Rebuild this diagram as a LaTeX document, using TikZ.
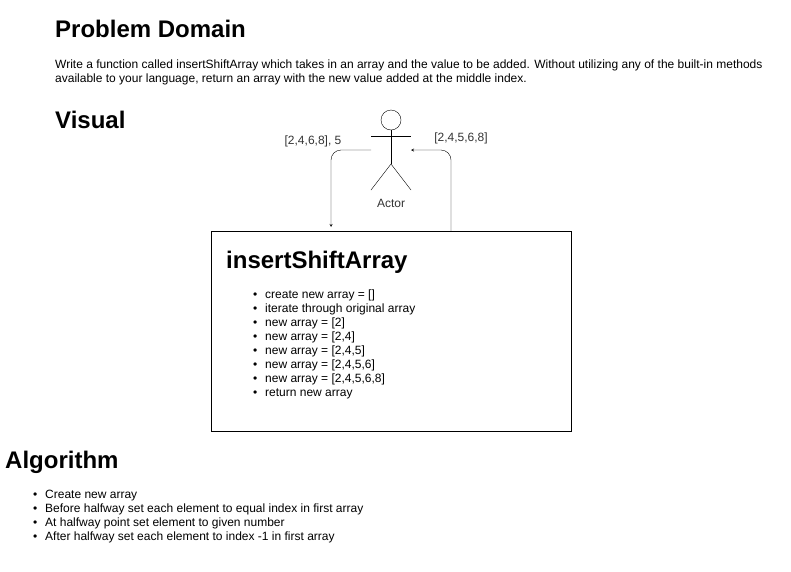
\documentclass[tikz,border=0pt]{standalone}
\usepackage{fontspec}
\setmainfont{Liberation Sans}
\usetikzlibrary{positioning}
\def\itm{\makebox[12pt][l]{\textbullet}}
\begin{document}
\begin{tikzpicture}[x=1pt, y=-1pt,
	headtext/.style={anchor=base west, inner sep=0, font=\bfseries\fontsize{24}{28}\selectfont},
	bodytext/.style={anchor=north west, inner sep=0, align=left, font=\fontsize{12}{14}\selectfont},
	smalltext/.style={inner sep=0, font=\fontsize{12}{14}\selectfont, text=black!80},
	funcbox/.style={rectangle, draw=black, minimum width=360, minimum height=200, inner sep=0},
	link/.style={->, >=stealth, rounded corners=10},
	]
	\useasboundingbox (0,0) rectangle (791,571);
	%Nodes
	\node[headtext]  (problem)  at (55,37)   {Problem Domain};
	\node[bodytext]  (desc)     at (55,60)   {Write a function called insertShiftArray which takes in an array and the value to be added. Without utilizing any of the built-in methods\\available to your language, return an array with the new value added at the middle index.};
	\node[headtext]  (visual)   at (55,128)  {Visual};
	\node[funcbox]   (func)     at (391,331) {};
	\node[headtext]  (functitle) at (226,268) {insertShiftArray};
	\node[bodytext]  (steps)    at (253,290) {\itm create new array = []\\\itm iterate through original array\\\itm new array = [2]\\\itm new array = [2,4]\\\itm new array = [2,4,5]\\\itm new array = [2,4,5,6]\\\itm new array = [2,4,5,6,8]\\\itm return new array};
	\node[headtext]  (algo)     at (5,468)   {Algorithm};
	\node[bodytext]  (algosteps) at (33,490) {\itm Create new array\\\itm Before halfway set each element to equal index in first array\\\itm At halfway point set element to given number\\\itm After halfway set each element to index -1 in first array};
	\node[smalltext] (actorlabel) at (391,203) {Actor};
	\node[smalltext] (inlabel)  at (313,141) {[2,4,6,8], 5};
	\node[smalltext] (outlabel) at (461,138) {[2,4,5,6,8]};

	%Actor
	\node[circle, draw=black, minimum size=20, inner sep=0] (head) at (391,120) {};
	\coordinate (armL) at (371,136);
	\coordinate (armR) at (411,136);
	\coordinate (hip)  at (391,164);
	\coordinate (sideL) at (371,150);
	\coordinate (sideR) at (411,150);
	\draw (head) -- (hip);
	\draw (armL) -- (armR);
	\draw (371,190) -- (hip) -- (411,190);

	%Lines
	\coordinate (inend) at (331,227);
	\draw[link] (sideL) -| (inend);
	\draw[link] (func.north -| 451,0) |- (sideR);
\end{tikzpicture}
\end{document}
